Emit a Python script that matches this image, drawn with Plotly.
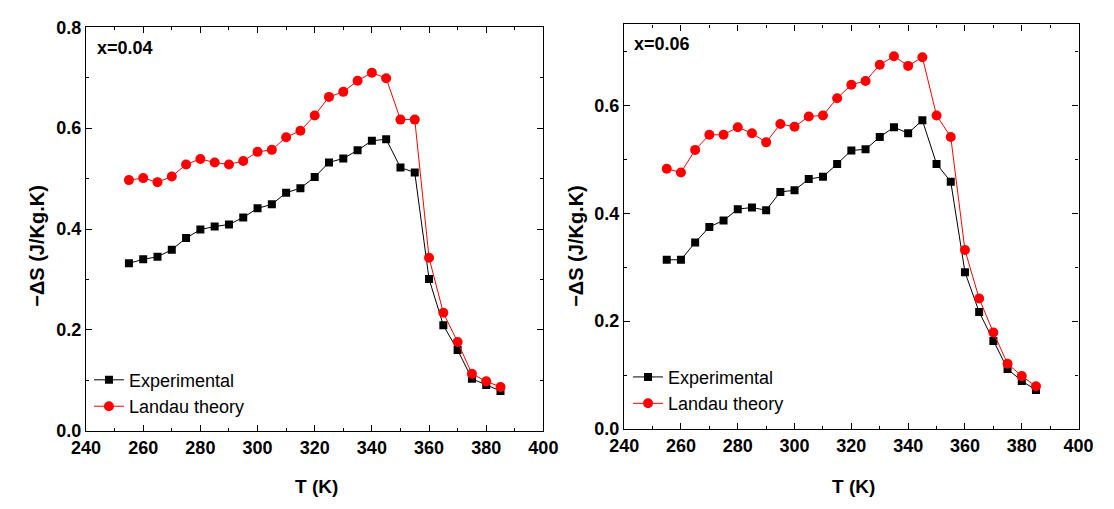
import plotly.graph_objects as go

T = [255, 260, 265, 270, 275, 280, 285, 290, 295, 300, 305, 310, 315, 320,
     325, 330, 335, 340, 345, 350, 355, 360, 365, 370, 375, 380, 385]

exp_004 = [0.332, 0.340, 0.345, 0.359, 0.382, 0.399, 0.405, 0.409, 0.423, 0.441,
           0.449, 0.472, 0.481, 0.503, 0.532, 0.540, 0.556, 0.575, 0.578, 0.522,
           0.512, 0.301, 0.209, 0.160, 0.103, 0.091, 0.079]
lan_004 = [0.497, 0.501, 0.493, 0.504, 0.528, 0.539, 0.532, 0.528, 0.535, 0.553,
           0.557, 0.582, 0.595, 0.625, 0.662, 0.672, 0.694, 0.710, 0.699, 0.617,
           0.617, 0.343, 0.234, 0.176, 0.113, 0.098, 0.087]

exp_006 = [0.314, 0.314, 0.346, 0.375, 0.387, 0.408, 0.411, 0.406, 0.440, 0.443,
           0.464, 0.468, 0.492, 0.517, 0.519, 0.542, 0.560, 0.549, 0.573, 0.492,
           0.459, 0.291, 0.217, 0.163, 0.111, 0.089, 0.072]
lan_006 = [0.483, 0.476, 0.518, 0.546, 0.546, 0.560, 0.549, 0.532, 0.566, 0.561,
           0.580, 0.582, 0.614, 0.639, 0.646, 0.676, 0.692, 0.674, 0.690, 0.582,
           0.542, 0.332, 0.242, 0.179, 0.121, 0.098, 0.079]

panel_labels = ["x=0.04", "x=0.06"]
x_title = "T (K)"
y_title = "\u2212\u0394S (J/Kg.K)"
series_names = ["Experimental", "Landau theory"]

W, H = 1114, 509
FONT = "Liberation Sans, Arial, sans-serif"

def px(x):
    return x / W

def py(y):
    return (H - y) / H

fig = go.Figure()

panels = [
    dict(exp=exp_004, lan=lan_004, xa="x", ya="y", leg="legend",
         xdom=[px(73), px(543)], ydom=[py(438), py(18)], yr=[0, 0.8]),
    dict(exp=exp_006, lan=lan_006, xa="x2", ya="y2", leg="legend2",
         xdom=[px(626), px(1093)], ydom=[py(436), py(15)], yr=[0, 0.751]),
]

for p in panels:
    fig.add_trace(go.Scatter(
        x=T, y=p["exp"], name=series_names[0], mode="lines+markers",
        line=dict(color="black", width=1),
        marker=dict(symbol="square", size=8, color="black"),
        xaxis=p["xa"], yaxis=p["ya"], legend=p["leg"]))
    fig.add_trace(go.Scatter(
        x=T, y=p["lan"], name=series_names[1], mode="lines+markers",
        line=dict(color="red", width=1),
        marker=dict(symbol="circle", size=10, color="red"),
        xaxis=p["xa"], yaxis=p["ya"], legend=p["leg"]))

axis_common = dict(
    showline=True, linecolor="black", linewidth=1.3, mirror="allticks",
    ticks="inside", ticklen=6, tickwidth=1.2, tickcolor="black",
    showgrid=False, zeroline=False,
    tickfont=dict(family=FONT, size=18, color="black", weight="bold"),
    minor=dict(ticks="inside", ticklen=3, tickwidth=1, tickcolor="black", showgrid=False),
)

layout = dict(
    width=W, height=H, margin=dict(l=0, r=0, t=0, b=0),
    paper_bgcolor="white", plot_bgcolor="white",
    font=dict(family=FONT, color="black"),
)

for i, p in enumerate(panels):
    sx = "" if i == 0 else "2"
    layout["xaxis" + sx] = dict(axis_common, domain=p["xdom"], range=[240, 400],
                                 dtick=20, tick0=240, anchor="y" + sx,
                                 minor=dict(axis_common["minor"], dtick=10))
    layout["yaxis" + sx] = dict(axis_common, domain=p["ydom"], range=p["yr"],
                                 dtick=0.2, tick0=0, tickformat=".1f", anchor="x" + sx,
                                 minor=dict(axis_common["minor"], dtick=0.1))

legend_font = dict(family=FONT, size=18, color="black")
layout["legend"] = dict(x=px(76), y=py(366), xanchor="left", yanchor="top",
                        bgcolor="rgba(0,0,0,0)", font=legend_font,
                        tracegroupgap=0, itemwidth=30)
layout["legend2"] = dict(x=px(630), y=py(363), xanchor="left", yanchor="top",
                         bgcolor="rgba(0,0,0,0)", font=legend_font,
                         tracegroupgap=0, itemwidth=30)

fig.update_layout(**layout)

annots = [
    dict(text=panel_labels[0], x=px(82), y=py(40), xanchor="left", yanchor="middle"),
    dict(text=panel_labels[1], x=px(634), y=py(35), xanchor="left", yanchor="middle"),
]
for a in annots:
    fig.add_annotation(xref="paper", yref="paper", showarrow=False,
                       font=dict(family=FONT, size=18, color="black", weight="bold"), **a)

for xt in [23, 577]:
    fig.add_annotation(xref="paper", yref="paper", showarrow=False, text=y_title,
                       textangle=-90, x=px(xt), y=py(245),
                       xanchor="center", yanchor="middle",
                       font=dict(family=FONT, size=20, color="black", weight="bold"))
for xc in [310, 862]:
    fig.add_annotation(xref="paper", yref="paper", showarrow=False, text=x_title,
                       x=px(xc), y=py(496), xanchor="center", yanchor="middle",
                       font=dict(family=FONT, size=19, color="black", weight="bold"))

fig.write_html("out.html")
